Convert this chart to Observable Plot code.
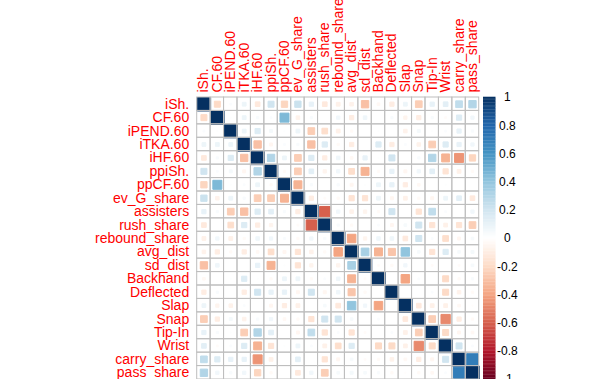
<!DOCTYPE html>
<html><head><meta charset="utf-8">
<script src="https://cdn.jsdelivr.net/npm/d3@7"></script>
<script src="https://cdn.jsdelivr.net/npm/@observablehq/plot@0.6"></script>
<style>
html,body{margin:0;padding:0;background:#fff;}
#wrap{position:relative;width:615px;height:379px;overflow:hidden;background:#fff;}
#wrap svg{position:absolute;top:0;}
</style></head><body><div id="wrap"></div>
<script>
const variables = ["iSh.","CF.60","iPEND.60","iTKA.60","iHF.60","ppiSh.","ppCF.60","ev_G_share","assisters","rush_share","rebound_share","avg_dist","sd_dist","Backhand","Deflected","Slap","Snap","Tip-In","Wrist","carry_share","pass_share"];

// correlations of each variable with the variables that follow it
const r_iSh      = [-0.2,0.02,0.08,-0.12,0.2,-0.22,0.22,0.1,-0.12,-0.08,-0.07,-0.3,-0.04,-0.1,0.08,-0.25,0.1,0.12,0.25,0.3];
const r_CF       = [0.01,0.08,0.03,0.02,0.45,-0.07,0.03,0,0.06,-0.1,0.07,0,0.03,-0.06,-0.1,0.03,-0.02,0.15,0.06];
const r_iPEND    = [0.08,0.15,0.05,0.01,0.08,-0.25,-0.18,-0.08,-0.03,0,0.01,0,-0.07,0.05,0.01,0.02,0.1,0.03];
const r_iTKA     = [-0.3,-0.05,0.02,0.03,-0.3,0.15,-0.03,-0.1,0,0.15,-0.1,0.02,-0.07,-0.25,0.15,0.1,0.06];
const r_iHF      = [0.3,0.08,-0.25,0.15,-0.1,0.07,-0.04,0.1,0.01,0.2,0,0.03,0.3,-0.35,-0.45,-0.22];
const r_ppiSh    = [-0.03,-0.25,0.12,-0.06,0.06,-0.18,-0.35,-0.03,0.1,-0.05,0.06,0.12,-0.15,-0.08,-0.03];
const r_ppCF     = [-0.35,0.03,0,0.03,-0.05,0.01,0.08,0.1,-0.1,-0.04,0,0.01,0,0];
const r_evG      = [-0.1,-0.02,-0.03,-0.15,-0.15,0.08,-0.05,-0.08,-0.03,-0.05,0.08,0.12,-0.12];
const r_assist   = [-0.6,0.06,-0.07,-0.06,-0.03,0.2,0,-0.15,0.25,0.02,0,0.06];
const r_rush     = [0.03,-0.03,0,0.02,-0.05,0.04,0.2,-0.15,-0.08,-0.15,-0.25];
const r_rebound  = [-0.4,-0.06,0.07,0.07,-0.12,0.2,0.02,-0.18,-0.05,0.04];
const r_avgDist  = [0.33,-0.35,-0.28,0.4,0.04,-0.15,0.15,0.04,0.05];
const r_sdDist   = [-0.02,-0.03,0.06,0,-0.02,0,-0.02,0.04];
const r_backhand = [0,-0.4,0.02,0,-0.2,-0.03,0.03];
const r_deflect  = [0,0,0.02,-0.2,-0.07,-0.03];
const r_slap     = [-0.12,-0.08,-0.08,-0.04,-0.01];
const r_snap     = [-0.25,-0.48,-0.1,-0.03];
const r_tipin    = [-0.2,-0.05,-0.04];
const r_wrist    = [0.2,0.02];
const r_carry    = [0.7];

const upperRows = [r_iSh,r_CF,r_iPEND,r_iTKA,r_iHF,r_ppiSh,r_ppCF,r_evG,r_assist,r_rush,r_rebound,r_avgDist,r_sdDist,r_backhand,r_deflect,r_slap,r_snap,r_tipin,r_wrist,r_carry];

const legendTicks = [-1,-0.8,-0.6,-0.4,-0.2,0,0.2,0.4,0.6,0.8,1];
const paletteColors = ["#67001F","#B2182B","#D6604D","#F4A582","#FDDBC7","#FFFFFF","#D1E5F0","#92C5DE","#4393C3","#2166AC","#053061"];

const n = variables.length;
const cells = [];
for (let i = 0; i < n; i++) {
  for (let j = 0; j < n; j++) {
    let v;
    if (i === j) v = 1;
    else if (i < j) v = upperRows[i][j - i - 1];
    else v = upperRows[j][i - j - 1];
    cells.push({row: variables[i], col: variables[j], v});
  }
}

const fontFamily = "'Liberation Sans', Arial, sans-serif";
const colorScale = {type: "linear", domain: legendTicks, range: paletteColors, interpolate: "rgb", clamp: true};
const cellSize = 282 / 21;

const main = Plot.plot({
  width: 615, height: 379,
  marginLeft: 196.7, marginRight: 136.3, marginTop: 97, marginBottom: 0,
  style: {fontFamily, color: "#FF0000", background: "transparent", overflow: "visible"},
  x: {type: "band", domain: variables, padding: 0, round: false, label: null},
  y: {type: "band", domain: variables, padding: 0, round: false, label: null},
  color: colorScale,
  r: {type: "sqrt", domain: [0, 1], range: [0, cellSize / Math.sqrt(Math.PI)]},
  marks: [
    Plot.dot(cells, {x: "col", y: "row", r: d => Math.abs(d.v), symbol: "square", fill: "v", stroke: "v", strokeWidth: 1}),
    Plot.cell(cells, {x: "col", y: "row", fill: "none", stroke: "#BEBEBE", strokeWidth: 1}),
    Plot.axisX({anchor: "top", tickRotate: -90, tickSize: 0, tickPadding: 5, fontSize: 14, label: null}),
    Plot.axisY({anchor: "left", tickSize: 0, tickPadding: 8, fontSize: 14, label: null})
  ]
});

const ramp = d3.range(0, 200).map(i => -1 + i * 0.01);
const legend = Plot.plot({
  width: 136.3, height: 379,
  marginLeft: 4, marginRight: 119.8, marginTop: 97, marginBottom: 0,
  style: {fontFamily, color: "#000", background: "transparent", overflow: "visible"},
  y: {domain: [-1, 1], label: null},
  color: colorScale,
  marks: [
    Plot.rect(ramp, {y1: d => d, y2: d => d + 0.012, fill: d => d + 0.005}),
    Plot.axisY({ticks: legendTicks, anchor: "right", tickSize: 0, tickPadding: 11.3, textAnchor: "middle", fontSize: 12, tickFormat: d => String(d), label: null})
  ]
});
legend.style.left = "478.7px";

const wrap = document.getElementById("wrap");
wrap.appendChild(main);
wrap.appendChild(legend);
</script>
</body></html>
